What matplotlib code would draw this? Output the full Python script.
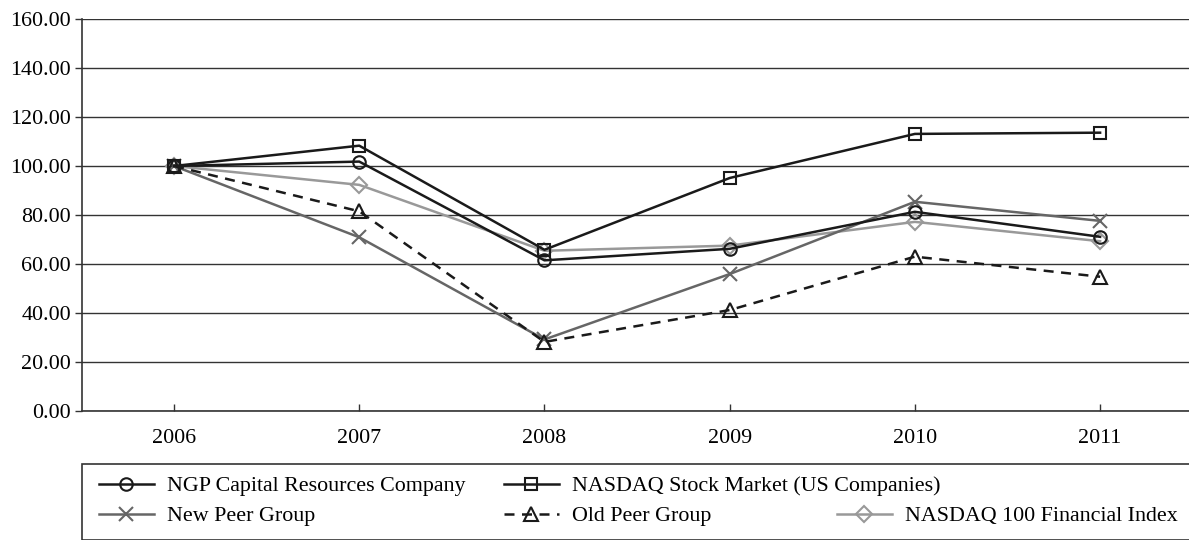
import matplotlib
matplotlib.use("Agg")
import matplotlib.pyplot as plt
from matplotlib.patches import Rectangle

plt.rcParams['font.family'] = ['Liberation Serif', 'DejaVu Serif']

# Données
years = ['2006', '2007', '2008', '2009', '2010', '2011']
ngp = [100.0, 101.8, 61.5, 66.2, 81.3, 71.1]
nasdaq = [100.0, 108.3, 65.8, 95.1, 113.1, 113.6]
new_peer = [100.0, 70.9, 29.2, 55.9, 85.4, 77.6]
old_peer = [100.0, 81.5, 28.2, 41.2, 63.0, 54.8]
nasdaq_fin = [100.0, 92.3, 65.4, 67.5, 77.2, 69.3]
y_ticks = [0, 20, 40, 60, 80, 100, 120, 140, 160]

W, H = 1189, 540
fs = 15.8
fig = plt.figure(figsize=(W / 100, H / 100), dpi=100)
ax = fig.add_axes([82 / W, 1 - 411 / H, 1 - 82 / W, (411 - 19) / H])

x = range(len(years))
lw = 1.8
ms = 9
ax.plot(x, ngp, color='#1a1a1a', lw=lw, marker='o', ms=ms, mfc='none', mew=1.5,
        label='NGP Capital Resources Company', zorder=5)
ax.plot(x, nasdaq, color='#1a1a1a', lw=lw, marker='s', ms=ms - 0.5, mfc='none', mew=1.5,
        label='NASDAQ Stock Market (US Companies)', zorder=5)
ax.plot(x, new_peer, color='#666666', lw=lw, marker='x', ms=ms + 1, mew=1.5,
        label='New Peer Group', zorder=4)
ax.plot(x, old_peer, color='#1a1a1a', lw=lw, ls=(0, (4, 3)), marker='^', ms=ms + 0.5,
        mfc='none', mew=1.5, label='Old Peer Group', zorder=4)
ax.plot(x, nasdaq_fin, color='#999999', lw=lw, marker='D', ms=ms - 1, mfc='none', mew=1.5,
        label='NASDAQ 100 Financial Index', zorder=3)

ax.set_xlim(-0.497, 5.48)
ax.set_ylim(0, 160)
ax.set_yticks(y_ticks)
ax.set_yticklabels([f'{v:.2f}' for v in y_ticks])
ax.set_xticks(list(x))
ax.set_xticklabels(years)
ax.tick_params(axis='y', direction='out', length=5, width=1, color='#333333',
               labelsize=fs, pad=3)
ax.tick_params(axis='x', direction='in', length=5, width=1, color='#333333',
               labelsize=fs, pad=13)
ax.grid(axis='y', color='#333333', lw=1)
ax.set_axisbelow(True)
for s in ['top', 'right']:
    ax.spines[s].set_visible(False)
for s in ['left', 'bottom']:
    ax.spines[s].set_color('#333333')
    ax.spines[s].set_linewidth(1.2)

# Cadre de la légende
fig.patches.append(Rectangle((82 / W, 0), 1, 1 - 464 / H, transform=fig.transFigure,
                             fill=False, edgecolor='#333333', lw=1.2))

# Légende : une entrée par position
handles, labels = ax.get_legend_handles_labels()
places = [(99, 486), (504, 486), (99, 516), (504, 516), (837, 516)]
for h, l, (px, py) in zip(handles, labels, places):
    fig.legend([h], [l], loc='center left', bbox_to_anchor=(px / W, 1 - py / H),
               frameon=False, borderpad=0, borderaxespad=0, handlelength=2.5,
               handletextpad=0.6, fontsize=fs)

fig.savefig('out.png', dpi=100)
